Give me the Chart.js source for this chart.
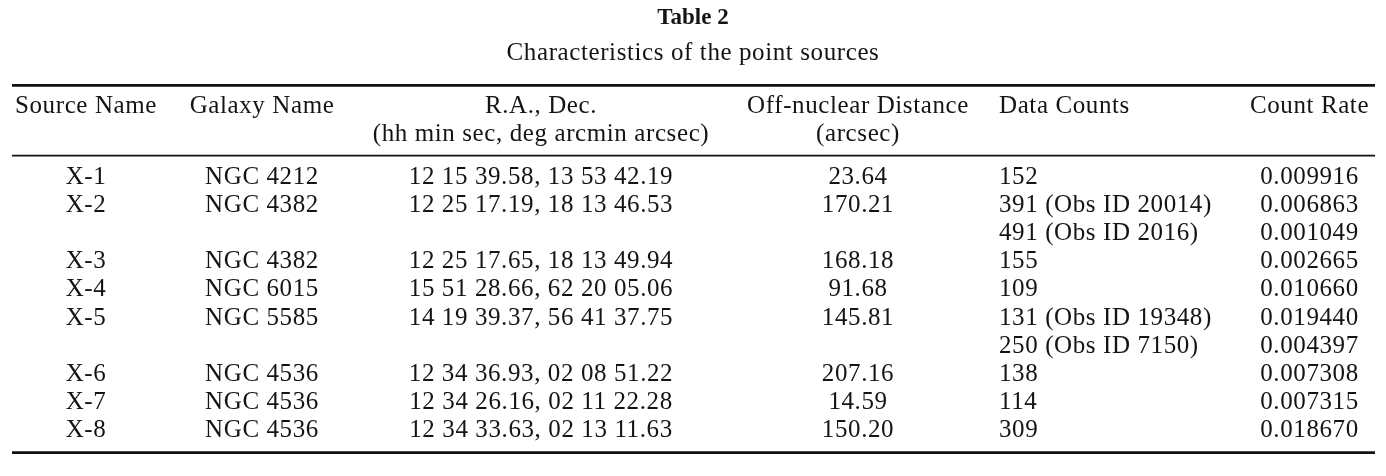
<!DOCTYPE html>
<html>
<head>
<meta charset="utf-8">
<title>Table 2</title>
<script src="https://cdn.jsdelivr.net/npm/chart.js@4"></script>
<style>
    html, body { margin: 0; padding: 0; background: #ffffff; }
    #wrap { width: 1386px; height: 476px; }
</style>
</head>
<body>
<div id="wrap">
    <canvas id="table_canvas" width="1386" height="476"></canvas>
</div>
<script>
// data tabel
const tableTitle = 'Table 2';
const tableCaption = 'Characteristics of the point sources';

const sourceNames = ['X-1', 'X-2', '', 'X-3', 'X-4', 'X-5', '', 'X-6', 'X-7', 'X-8'];
const galaxyNames = ['NGC 4212', 'NGC 4382', '', 'NGC 4382', 'NGC 6015', 'NGC 5585', '', 'NGC 4536', 'NGC 4536', 'NGC 4536'];
const raDec = [
    '12 15 39.58, 13 53 42.19',
    '12 25 17.19, 18 13 46.53',
    '',
    '12 25 17.65, 18 13 49.94',
    '15 51 28.66, 62 20 05.06',
    '14 19 39.37, 56 41 37.75',
    '',
    '12 34 36.93, 02 08 51.22',
    '12 34 26.16, 02 11 22.28',
    '12 34 33.63, 02 13 11.63'
];
const offNuclear = ['23.64', '170.21', '', '168.18', '91.68', '145.81', '', '207.16', '14.59', '150.20'];
const dataCounts = ['152', '391 (Obs ID 20014)', '491 (Obs ID 2016)', '155', '109', '131 (Obs ID 19348)', '250 (Obs ID 7150)', '138', '114', '309'];
const countRates = ['0.009916', '0.006863', '0.001049', '0.002665', '0.010660', '0.019440', '0.004397', '0.007308', '0.007315', '0.018670'];

const headerLine1 = ['Source Name', 'Galaxy Name', 'R.A., Dec.', 'Off-nuclear Distance', 'Data Counts', 'Count Rate'];
const headerLine2 = ['', '', '(hh min sec, deg arcmin arcsec)', '(arcsec)', '', ''];

// kolom: posisi x (skala x) dan perataan
const columns = [
    { values: sourceNames, x: 86, align: 'center' },
    { values: galaxyNames, x: 262, align: 'center' },
    { values: raDec, x: 541, align: 'center' },
    { values: offNuclear, x: 858, align: 'center' },
    { values: dataCounts, x: 999, align: 'left' },
    { values: countRates, x: 1309.5, align: 'center' }
];

// posisi baris pada skala y (satuan baris)
const rowTitle = -5.69;
const rowCaption = -4.43;
const ruleTop = -3.51;
const rowHead1 = -2.53;
const rowHead2 = -1.53;
const ruleMid = -1.01;
const ruleBottom = 9.56;

const textFont = '25px "Liberation Serif", "Times New Roman", serif';
const titleFont = 'bold 23px "Liberation Serif", "Times New Roman", serif';

const drawTable = {
    id: 'drawTable',
    afterDraw(chart) {
        const { ctx, scales: { x, y } } = chart;
        const left = x.getPixelForValue(12);
        const right = x.getPixelForValue(1375);

        function text(str, xv, yv, align, font) {
            if (!str) return;
            ctx.font = font || textFont;
            ctx.textAlign = align;
            ctx.textBaseline = 'alphabetic';
            ctx.fillText(str, x.getPixelForValue(xv), y.getPixelForValue(yv));
        }

        function rule(yv, w) {
            ctx.beginPath();
            ctx.lineWidth = w;
            ctx.strokeStyle = '#111111';
            ctx.moveTo(left, y.getPixelForValue(yv));
            ctx.lineTo(right, y.getPixelForValue(yv));
            ctx.stroke();
            ctx.closePath();
        }

        ctx.save();
        ctx.fillStyle = '#141414';

        // judul
        ctx.letterSpacing = '0px';
        text(tableTitle, 693, rowTitle, 'center', titleFont);
        ctx.letterSpacing = '0.6px';
        text(tableCaption, 693, rowCaption, 'center');

        // garis
        rule(ruleTop, 2.6);
        rule(ruleMid, 1.8);
        rule(ruleBottom, 2.6);

        // header
        columns.forEach((col, i) => {
            const hAlign = col.align;
            text(headerLine1[i], col.x, rowHead1, hAlign);
            text(headerLine2[i], col.x, rowHead2, hAlign);
        });

        // isi tabel
        columns.forEach(col => {
            col.values.forEach((v, r) => {
                text(v, col.x, r, col.align);
            });
        });

        ctx.restore();
    }
};

const conf = {
    type: 'scatter',
    data: {
        datasets: [{ data: [], pointRadius: 0 }]
    },
    options: {
        responsive: false,
        animation: false,
        layout: { padding: 0 },
        scales: {
            x: { type: 'linear', display: false, min: 0, max: 1386 },
            y: { type: 'linear', display: false, min: -6.548, max: 10.391, reverse: true }
        },
        plugins: {
            legend: { display: false },
            tooltip: { enabled: false }
        }
    },
    plugins: [drawTable]
};

new Chart(document.getElementById('table_canvas'), conf);
</script>
</body>
</html>
